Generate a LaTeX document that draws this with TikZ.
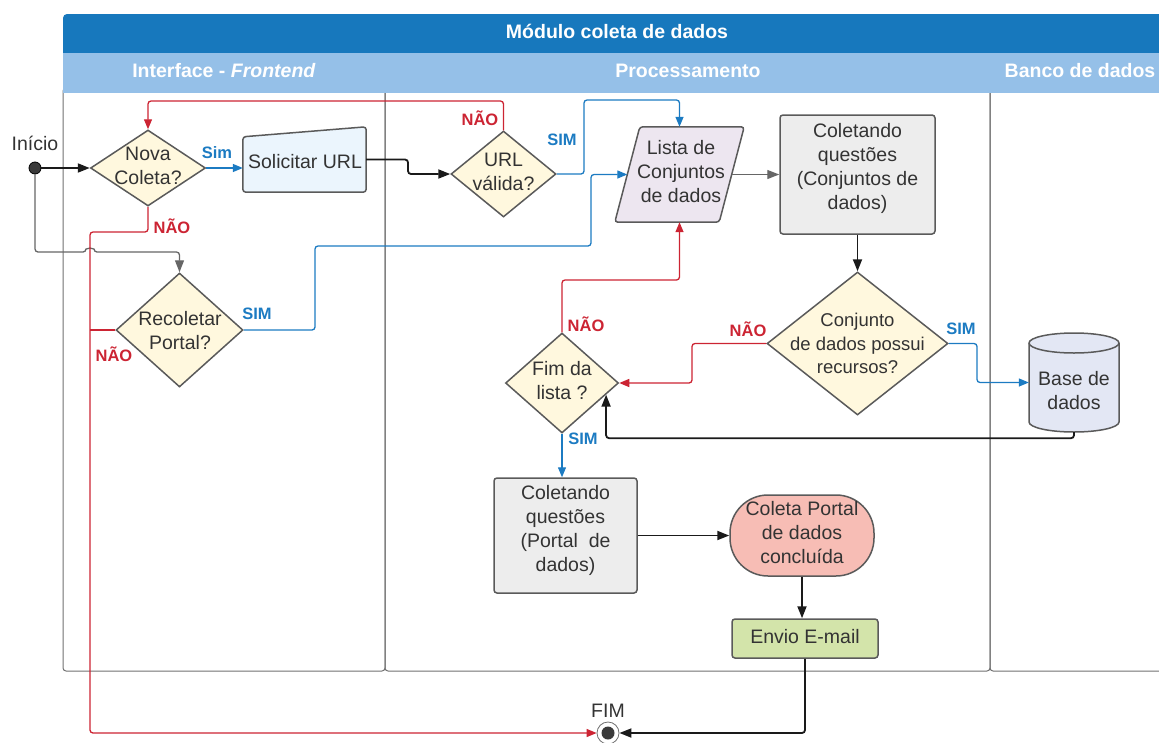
\documentclass[tikz,border=0pt]{standalone}
\usepackage{fontspec}
\setmainfont{Liberation Sans}
\usetikzlibrary{shapes.geometric,arrows.meta,calc}
\definecolor{titleblue}{HTML}{1778BD}
\definecolor{lanehead}{HTML}{95C0E8}
\definecolor{laneline}{HTML}{707070}
\definecolor{shapeline}{HTML}{5A5A5A}
\definecolor{diafill}{HTML}{FFF8DE}
\definecolor{solfill}{HTML}{EBF5FD}
\definecolor{listafill}{HTML}{EDE6F0}
\definecolor{boxfill}{HTML}{EDEDED}
\definecolor{basefill}{HTML}{E3E7F4}
\definecolor{conclfill}{HTML}{F7BDB5}
\definecolor{enviofill}{HTML}{D3E4AA}
\definecolor{txtcol}{HTML}{333333}
\definecolor{cnred}{HTML}{CC2433}
\definecolor{cnblue}{HTML}{1C7BC2}
\definecolor{cngray}{HTML}{666666}
\definecolor{cnblack}{HTML}{1A1A1A}
\definecolor{dotfill}{HTML}{3A3A3A}
\begin{document}
\begin{tikzpicture}[x=1pt,y=-1pt,
  shp/.style={draw=shapeline, line width=1.5pt},
  dia/.style={shp, diamond, fill=diafill, inner sep=0pt},
  txt/.style={text=txtcol, font=\fontsize{19.5pt}{24pt}\selectfont, align=center, inner sep=0pt},
  txts/.style={text=txtcol, font=\fontsize{18.5pt}{23.5pt}\selectfont, align=center, inner sep=0pt},
  lbl/.style={font=\fontsize{16.5pt}{20pt}\selectfont\bfseries, inner sep=0pt},
  lblred/.style={lbl, text=cnred},
  lblblue/.style={lbl, text=cnblue},
  hdr/.style={text=white, font=\fontsize{19.5pt}{24pt}\selectfont\bfseries, inner sep=0pt},
  conn/.style={line width=1.3pt, rounded corners=3pt},
  tipsmall/.style={-{Triangle[length=10pt,width=8pt]}},
  tipbig/.style={-{Triangle[length=12pt,width=9pt]}},
  cred/.style={conn, draw=cnred, tipsmall},
  credline/.style={conn, draw=cnred},
  cblue/.style={conn, draw=cnblue, tipsmall},
  cgray/.style={conn, draw=cngray, tipbig},
  cblk/.style={conn, line width=1.8pt, draw=cnblack, tipbig},
  lane/.style={draw=laneline, line width=1pt, rounded corners=3pt}
]
\useasboundingbox (0,0) rectangle (1159,742);
\clip (0,0) rectangle (1159,742);

% lanes
\draw[lane] (63,88) rectangle (385,671);
\draw[lane] (385,88) rectangle (990,671);
\draw[lane] (990,88) rectangle (1180,671);
% headers
\fill[titleblue, rounded corners=4pt] (63,14) rectangle (1180,60);
\fill[lanehead] (63,53) rectangle (1180,93);
\node[hdr] (title) at (617,31) {Módulo coleta de dados};
\node[hdr] (lane1) at (224,71) {Interface - \textit{Frontend}};
\node[hdr] (lane2) at (688,71) {Processamento};
\node[hdr] (lane3) at (1080,71) {Banco de dados};

% start / end
\node[circle, fill=dotfill, draw=black, line width=0.8pt, minimum size=12pt, inner sep=0pt] (start) at (35,168) {};
\node[txt] (start-l) at (35,143) {Início};
\node[circle, draw=laneline, line width=0.8pt, fill=white, minimum size=22pt, inner sep=0pt] (fimend) at (608,733) {};
\node[circle, fill=dotfill, minimum size=13pt, inner sep=0pt] (fimdot) at (fimend) {};
\node[txt] (fim-l) at (608,711) {FIM};

% Nova Coleta
\node[dia, minimum width=115pt, minimum height=76pt] (nova) at (148,168) {};
\node[txt] (nova-t) at (148,166) {Nova\\Coleta?};

% Solicitar URL (manual input)
\node[inner sep=0pt, minimum width=123pt, minimum height=65pt] (sol) at (304.5,159.5) {};
\path[shp, fill=solfill, rounded corners=3pt] (sol.south west) -- ($(sol.north west)+(0,10)$) -- (sol.north east) -- (sol.south east) -- cycle;
\node[txt] (sol-t) at (305,162) {Solicitar URL};

% URL valida
\node[dia, minimum width=105pt, minimum height=86pt] (url) at (503.5,174) {};
\node[txt] (url-t) at (503.5,171.5) {URL\\válida?};

% Lista (parallelogram)
\node[inner sep=0pt, minimum width=104pt, minimum height=95pt] (lista) at (679.5,174.5) {};
\path[shp, fill=listafill, rounded corners=3pt] ($(lista.south west)+(-12.5,0)$) -- ($(lista.north west)+(12.5,0)$) -- ($(lista.north east)+(12.5,0)$) -- ($(lista.south east)+(-12.5,0)$) -- cycle;
\node[txt] (lista-t) at (681,172) {Lista de\\Conjuntos\\de dados};

% Coletando conjuntos
\node[shp, fill=boxfill, rounded corners=3pt, minimum width=155pt, minimum height=119pt] (colc) at (857.5,174.5) {};
\node[txt] (colc-t) at (857.5,168.5) {Coletando\\questões\\(Conjuntos de\\dados)};

% Conjunto possui recursos
\node[dia, minimum width=181pt, minimum height=143pt] (conj) at (857.5,343.5) {};
\node[txts] (conj-t) at (857.5,343.5) {Conjunto\\de dados possui\\recursos?};

% Base de dados (cylinder)
\node[inner sep=0pt, minimum width=90pt, minimum height=99pt] (base) at (1074,382.5) {};
\path[shp, fill=basefill] (1029,343) -- (1029,422) arc[start angle=180, end angle=360, x radius=45pt, y radius=10pt] -- (1119,343) arc[start angle=0, end angle=180, x radius=45pt, y radius=10pt] -- cycle;
\draw[shp] (1029,343) arc[start angle=180, end angle=360, x radius=45pt, y radius=10pt];
\node[txt] (base-t) at (1074,391) {Base de\\dados};

% Fim da lista
\node[dia, minimum width=113pt, minimum height=100pt] (fim) at (562,383) {};
\node[txt] (fim-t) at (562,381) {Fim da\\lista ?};

% Recoletar Portal
\node[dia, minimum width=127pt, minimum height=114pt] (recol) at (179.5,330) {};
\node[txt] (recol-t) at (180,331) {Recoletar\\Portal?};

% Coletando portal
\node[shp, fill=boxfill, rounded corners=3pt, minimum width=143pt, minimum height=115pt] (colp) at (565.5,535.5) {};
\node[txt] (colp-t) at (565.5,530) {Coletando\\questões\\(Portal~~de\\dados)};

% Coleta concluida
\node[shp, fill=conclfill, rounded corners=38pt, minimum width=144pt, minimum height=81pt] (concl) at (802,535.5) {};
\node[txt] (concl-t) at (802,533) {Coleta Portal\\de dados\\concluída};

% Envio E-mail
\node[shp, fill=enviofill, rounded corners=3pt, minimum width=146pt, minimum height=39pt] (envio) at (805,638.5) {};
\node[txt] (envio-t) at (805,637) {Envio E-mail};

% connectors
\draw[cblk] (start) -- (nova.west);
\draw[cgray] (start.south) -- (35,252) -- (86,252) arc[start angle=180, end angle=0, radius=4pt] -- (179.5,252) -- (recol.north);
\draw[cred] (nova.south) -- (148,232) -- (90,232) -- (90,733) -- (fimend.west);
\draw[credline] (recol.west) -- (90,330);
\draw[cred] (url.north) -- (503.5,101) -| (nova.north);
\draw[cblue] (nova.east) -- (nova.east -| sol.west);
\draw[cblk] (sol.east) -- (408,159.5) -- (408,174) -- (url.west);
\draw[cblue] (url.east) -- (584,174) -- (584,100) -| (lista.north);
\draw[cblue] (recol.east) -- (315,330) -- (315,246) -- (591,246) |- (lista.west);
\draw[cgray] (lista.east) -- (colc.west);
\draw[cblk] (colc.south) -- (conj.north);
\draw[cblue] (conj.east) -- (977,343.5) |- (base.west);
\draw[cred] (conj.west) -- (692,343.5) |- (fim.east);
\coordinate (fimedge) at ($(fim.east)!0.23!(fim.south)$);
\draw[cblk] (base.south) -- ++(0,6) -| (fimedge);
\draw[cred] (fim.north) -- (562,280) -| (lista.south);
\draw[cblue] (fim.south) -- (fim.south |- colp.north);
\draw[cblk] (colp.east) -- (concl.west);
\draw[cblk] (concl.south) -- (concl.south |- envio.north);
\draw[cblk] (envio.south) -- (805,733) -- (fimend.east);

% labels
\node[lblblue] (l1) at (217,153) {Sim};
\node[lblred] (l2) at (172,226) {NÃO};
\node[lblred] (l3) at (114,354) {NÃO};
\node[lblblue] (l4) at (257,314) {SIM};
\node[lblred] (l5) at (480,118) {NÃO};
\node[lblblue] (l6) at (562,140) {SIM};
\node[lblred] (l7) at (586,324) {NÃO};
\node[lblred] (l8) at (748,329) {NÃO};
\node[lblblue] (l9) at (961,329) {SIM};
\node[lblblue] (l10) at (583,439) {SIM};
\end{tikzpicture}
\end{document}
